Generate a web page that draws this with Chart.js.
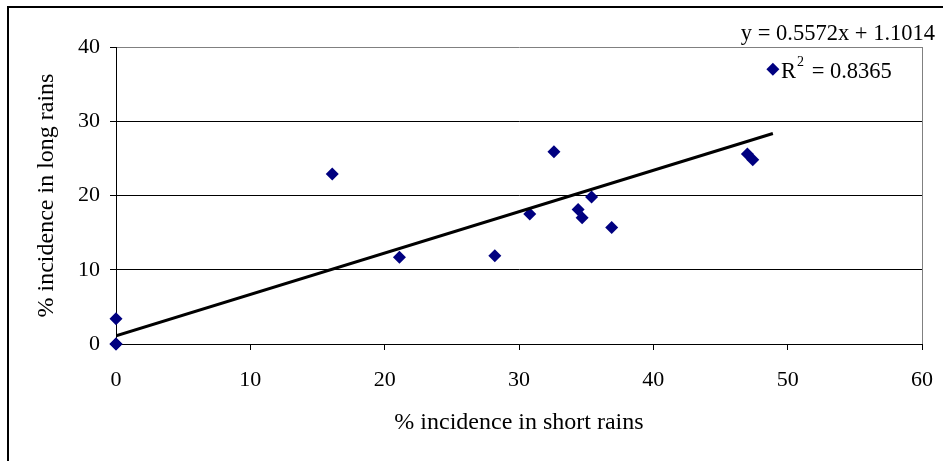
<!DOCTYPE html>
<html>
<head>
<meta charset="utf-8">
<title>Incidence: short rains vs long rains</title>
<script src="https://cdn.jsdelivr.net/npm/chart.js@4.4.1/dist/chart.umd.min.js"></script>
<style>
  html, body { margin: 0; padding: 0; background: #fff; }
  canvas { display: block; }
</style>
</head>
<body>
<canvas id="canvas" width="943" height="461"></canvas>
<script>
// % incidence per site: short rains (x) vs long rains (y)
var shortRains = [0, 0, 0, 16.1, 21.1, 28.2, 30.8, 32.6, 34.4, 34.7, 35.4, 36.9, 47.0, 47.4, 48.9];
var longRains  = [0, 0, 3.4, 22.9, 11.7, 11.9, 17.5, 25.9, 18.1, 17.0, 19.8, 15.7, 25.6, 24.8, 37.0];

// linear trendline y = a*x + b, fitted over the x range of the data
var trendSlope = 0.5572;
var trendIntercept = 1.1014;
var trendR2 = 0.8365;

var xTicks = [0, 10, 20, 30, 40, 50, 60];
var yTicks = [0, 10, 20, 30, 40];

const SERIF = "'Liberation Serif', 'Times New Roman', serif";
const NAVY = "#000080";

var bodovy = [];
for (var i = 0; i < shortRains.length; i++) {
    bodovy.push({x: shortRains[i], y: longRains[i]});
}

var xMin = Math.min.apply(null, shortRains);
var xMax = Math.max.apply(null, shortRains);
var trend = [
    {x: xMin, y: trendSlope * xMin + trendIntercept},
    {x: xMax, y: trendSlope * xMax + trendIntercept}
];

// outer frame of the chart object
var ramik = {
    id: 'ramik',
    beforeDraw: function (chart) {
        var ctx = chart.ctx;
        ctx.save();
        ctx.strokeStyle = '#000';
        ctx.lineWidth = 2;
        ctx.strokeRect(8, 7, 1000, 1000);
        ctx.restore();
    }
};

// trendline label: equation and R squared
var rovnica = {
    id: 'rovnica',
    afterDraw: function (chart) {
        var ctx = chart.ctx;
        ctx.save();
        ctx.fillStyle = '#000';
        ctx.textBaseline = 'alphabetic';
        ctx.font = '22.5px ' + SERIF;
        ctx.textAlign = 'right';
        ctx.fillText('y = ' + trendSlope.toFixed(4) + 'x + ' + trendIntercept.toFixed(4), 935, 40);

        ctx.textAlign = 'left';
        var x = 781;
        ctx.fillText('R', x, 78);
        x += ctx.measureText('R').width;
        ctx.font = '14px ' + SERIF;
        ctx.fillText('2', x + 1, 66);
        x += ctx.measureText('2').width + 3;
        ctx.font = '22.5px ' + SERIF;
        ctx.fillText(' = ' + trendR2.toFixed(4), x, 78);
        ctx.restore();
    }
};

var canvas = document.getElementById('canvas');
new Chart(canvas, {
    type: 'scatter',
    data: {
        datasets: [{
            label: 'trend',
            data: trend,
            showLine: true,
            borderColor: '#000',
            borderWidth: 3,
            pointRadius: 0,
            order: 0
        }, {
            label: 'incidence',
            data: bodovy,
            backgroundColor: NAVY,
            borderColor: NAVY,
            pointStyle: 'rectRot',
            pointRadius: 6.5,
            pointBorderWidth: 0,
            clip: false,
            order: 1
        }]
    },
    options: {
        responsive: false,
        animation: false,
        devicePixelRatio: 1,
        layout: {padding: {left: 0, top: 47, right: 21, bottom: 0}},
        plugins: {
            legend: {display: false},
            tooltip: {enabled: false}
        },
        scales: {
            x: {
                type: 'linear',
                min: 0,
                max: 60,
                afterBuildTicks: function (scale) {
                    scale.ticks = xTicks.map(function (v) { return {value: v}; });
                },
                afterFit: function (scale) {
                    scale.height = 117;
                    scale.paddingLeft = 0;
                    scale.paddingRight = 0;
                },
                grid: {
                    drawOnChartArea: true,
                    color: function (c) { return c.tick && c.tick.value === 60 ? '#808080' : 'rgba(0,0,0,0)'; },
                    tickColor: '#000',
                    tickLength: 6,
                    lineWidth: 1
                },
                border: {color: '#000', width: 1},
                ticks: {
                    color: '#000',
                    padding: 17,
                    maxRotation: 0,
                    font: {family: SERIF, size: 22}
                },
                title: {
                    display: true,
                    text: '% incidence in short rains',
                    color: '#000',
                    font: {family: SERIF, size: 24},
                    padding: {top: 0, bottom: 24}
                }
            },
            y: {
                type: 'linear',
                min: 0,
                max: 40,
                afterBuildTicks: function (scale) {
                    scale.ticks = yTicks.map(function (v) { return {value: v}; });
                },
                afterFit: function (scale) {
                    scale.width = 116;
                    scale.paddingTop = 0;
                    scale.paddingBottom = 0;
                },
                grid: {
                    color: function (c) { return c.tick && c.tick.value === 40 ? '#808080' : '#000'; },
                    tickColor: '#000',
                    tickLength: 6,
                    lineWidth: 1
                },
                border: {color: '#000', width: 1},
                ticks: {
                    color: '#000',
                    padding: 10,
                    font: {family: SERIF, size: 22}
                },
                title: {
                    display: true,
                    text: '% incidence in long rains',
                    color: '#000',
                    font: {family: SERIF, size: 24},
                    padding: {top: 32, bottom: 0}
                }
            }
        }
    },
    plugins: [ramik, rovnica]
});
</script>
</body>
</html>
